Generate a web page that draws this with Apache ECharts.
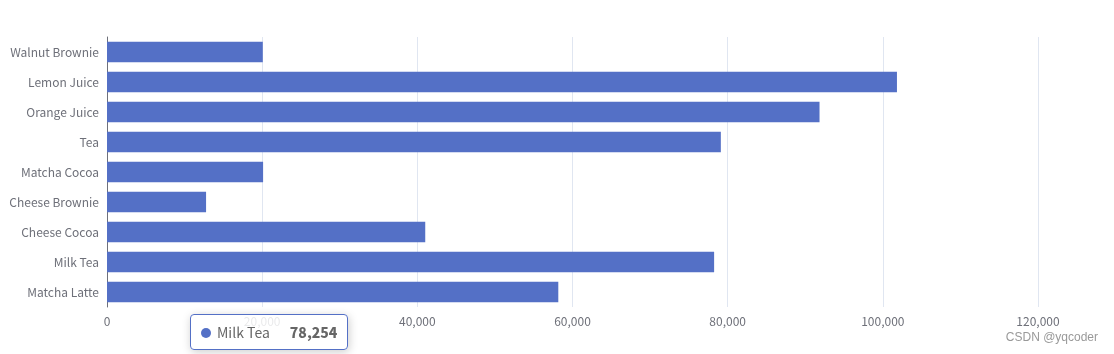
<!DOCTYPE html>
<html>
<head>
<meta charset="utf-8">
<script src="https://cdn.jsdelivr.net/npm/echarts@6/dist/echarts.min.js"></script>
<style>
  html, body { margin: 0; padding: 0; background: #fff; }
  #main { width: 1114px; height: 354px; }
</style>
</head>
<body>
<div id="main"></div>
<script>
// categories, bottom to top (category axis draws first item at the bottom)
var categories = ['Matcha Latte', 'Milk Tea', 'Cheese Cocoa', 'Cheese Brownie', 'Matcha Cocoa', 'Tea', 'Orange Juice', 'Lemon Juice', 'Walnut Brownie'];
var amounts = [58170, 78254, 41020, 12770, 20120, 79120, 91840, 101820, 20080];
var xTicks = { min: 0, max: 120000, interval: 20000 };
var FONT = "'Microsoft YaHei', 'Noto Sans CJK SC', sans-serif";

var chart = echarts.init(document.getElementById('main'));

var option = {
    animation: false,
    textStyle: { fontFamily: FONT },
    grid: { left: 107, right: 76, top: 37, bottom: 47 },
    tooltip: {
        trigger: 'item',
        alwaysShowContent: true,
        transitionDuration: 0,
        backgroundColor: 'rgba(255,255,255,0.85)',
        textStyle: { fontFamily: FONT, fontSize: 14, color: '#666' },
        position: function () { return [190, 314]; }
    },
    xAxis: {
        type: 'value',
        min: xTicks.min,
        max: xTicks.max,
        interval: xTicks.interval,
        axisLabel: { color: '#6e7079', fontSize: 12, margin: 8 },
        splitLine: { lineStyle: { color: '#e0e6f1' } }
    },
    yAxis: {
        type: 'category',
        data: categories,
        axisLabel: { color: '#6e7079', fontSize: 12, margin: 8 },
        axisLine: { lineStyle: { color: '#6e7079' } },
        axisTick: { lineStyle: { color: '#6e7079' } }
    },
    series: [{
        type: 'bar',
        data: amounts,
        itemStyle: { color: '#5470c6' }
    }],
    graphic: [{
        type: 'text',
        right: 16,
        bottom: 10,
        style: { text: 'CSDN @yqcoder', fill: '#999', font: "12px 'Liberation Sans', Arial, sans-serif" }
    }]
};

chart.setOption(option);

// show the Milk Tea tooltip like in the picture
chart.dispatchAction({ type: 'showTip', seriesIndex: 0, dataIndex: 1 });
</script>
</body>
</html>
